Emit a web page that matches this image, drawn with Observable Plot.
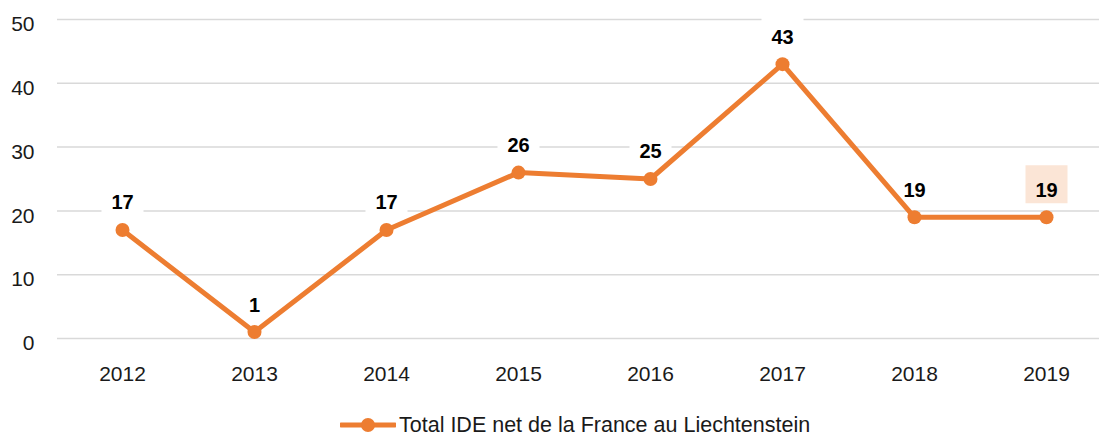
<!DOCTYPE html>
<html>
<head>
<meta charset="utf-8">
<script src="https://cdn.jsdelivr.net/npm/d3@7"></script>
<script src="https://cdn.jsdelivr.net/npm/@observablehq/plot@0.6"></script>
<style>
  html, body { margin: 0; padding: 0; background: white; }
  body { width: 1099px; height: 435px; overflow: hidden; font-family: "Liberation Sans", Arial, sans-serif; }
  #legend { position: relative; height: 35px; }
  #legend .item { position: absolute; left: 340px; top: 14px; display: flex; align-items: center; height: 22px; font-size: 21.5px; color: #1a1a1a; white-space: nowrap; }
  #legend svg { margin-right: 3px; }
</style>
</head>
<body>
<div id="chart"></div>
<div id="legend"><div class="item"><svg width="56" height="16"><line x1="1" y1="8" x2="55" y2="8" stroke="#ED7D31" stroke-width="5" stroke-linecap="round"/><circle cx="28" cy="8" r="7" fill="#ED7D31"/></svg><span>Total IDE net de la France au Liechtenstein</span></div></div>
<script>
const years = ["2012", "2013", "2014", "2015", "2016", "2017", "2018", "2019"];
const values = [17, 1, 17, 26, 25, 43, 19, 19];
const yTicks = [0, 10, 20, 30, 40, 50];
const highlightYear = "2019";

const data = years.map((year, i) => ({year, value: values[i]}));
const boxSymbol = {draw(ctx) { ctx.rect(-21, -19, 42, 38); }};
const orange = "#ED7D31";

const chart = Plot.plot({
  width: 1099,
  height: 400,
  marginLeft: 57,
  marginRight: 0,
  marginTop: 19,
  marginBottom: 62,
  style: {fontFamily: "Liberation Sans, Arial, sans-serif", fontSize: "21px", color: "#1a1a1a", background: "white"},
  x: {type: "point", domain: years, range: [122, 1046], padding: 0, label: null, tickSize: 0, tickPadding: 28},
  y: {domain: [0, 50], axis: null},
  marks: [
    Plot.ruleY(yTicks, {stroke: "#D9D9D9", strokeWidth: 1.5}),
    Plot.text(yTicks, {y: d => d, text: d => String(d), frameAnchor: "left", textAnchor: "end", dx: -23, dy: 5, fontSize: 21, fill: "#1a1a1a"}),
    Plot.dot(data.filter(d => d.year !== highlightYear), {x: "year", y: "value", symbol: boxSymbol, dy: -33, fill: "white"}),
    Plot.dot(data.filter(d => d.year === highlightYear), {x: "year", y: "value", symbol: boxSymbol, dy: -33, fill: "#FBE5D6"}),
    Plot.line(data, {x: "year", y: "value", stroke: orange, strokeWidth: 5}),
    Plot.dot(data, {x: "year", y: "value", r: 7, fill: orange}),
    Plot.text(data, {x: "year", y: "value", text: d => String(d.value), dy: -27, fontWeight: "bold", fontSize: 20, fill: "#000"})
  ]
});
document.getElementById("chart").appendChild(chart);
</script>
</body>
</html>
